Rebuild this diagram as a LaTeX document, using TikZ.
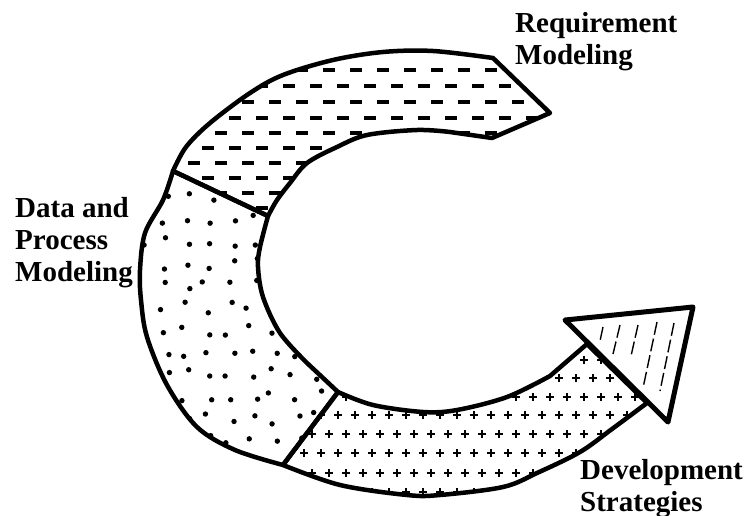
\documentclass[tikz,border=0pt]{standalone}
\usepackage{fontspec}
\setmainfont{Liberation Serif}
\begin{document}
\begin{tikzpicture}[x=1pt,y=-1pt,
  outline/.style={line width=4.5pt, line join=round, line cap=round},
  lbl/.style={anchor=base west, inner sep=0pt, align=left,
    font=\fontsize{29}{32}\selectfont\bfseries},
  plusmark/.style={line width=1.2pt},
  hatch/.style={line width=1.4pt, dash pattern=on 13pt off 4pt},
]
\useasboundingbox (0,0) rectangle (746,516);

% key points of the ring
\coordinate (d1o) at (173,171);   % divider 1, outer end
\coordinate (d1i) at (268,216);   % divider 1, inner end
\coordinate (d2o) at (283,465);   % divider 2, outer end
\coordinate (d2i) at (338,392);   % divider 2, inner end
\coordinate (tipT) at (550,113);  % pointed end of the upper band
\coordinate (topE) at (493,58);
\coordinate (botE) at (492,138);
\coordinate (baseI) at (587,344); % arrow body meets the head
\coordinate (baseO) at (647,403);
\coordinate (hA) at (565,320);    % arrowhead corners
\coordinate (hB) at (693,307);
\coordinate (hC) at (668,422);

% the three bands of the ring
\def\bandtop{plot[smooth,tension=0.55] coordinates {(d1o) (186,147) (210,123) (250,93) (283,75) (333,60) (383,52) (433,51) (topE)}
  -- (tipT) -- (botE)
  -- plot[smooth,tension=0.55] coordinates {(450,132) (417,130) (367,135) (337,147) (307,163) (290,183) (277,200) (d1i)} -- cycle}
\def\bandleft{plot[smooth,tension=0.55] coordinates {(d1o) (163,200) (145,233) (140,270) (141,300) (147,337) (167,385) (197,427) (235,450) (d2o)}
  -- (d2i)
  -- plot[smooth,tension=0.55] coordinates {(307,363) (280,333) (263,297) (258,267) (260,247) (d1i)} -- cycle}
\def\bandbottom{plot[smooth,tension=0.55] coordinates {(d2o) (340,485) (407,495) (440,495) (503,487) (537,473) (580,452) (612,429) (baseO)}
  -- (baseI)
  -- plot[smooth,tension=0.55] coordinates {(550,376) (507,397) (457,410) (423,412) (373,405) (d2i)} -- cycle}

% dashes in the upper band
\begin{scope}
  \clip \bandtop;
  \foreach \row [count=\i] in {68,84,100,116,131,146,161,176,191,206} {
    \foreach \col in {0,...,15} {
      \fill ({148+27*\col+mod(\i,2)*13},\row) rectangle ++(12,4);
    }
  }
\end{scope}

% dots in the left band
\begin{scope}
  \clip \bandleft;
  \pgfmathsetseed{11}
  \foreach \yy in {176,198,...,480} {
    \foreach \xx in {142,164,...,340} {
      \pgfmathsetmacro\dx{rand*6}
      \pgfmathsetmacro\dy{rand*6}
      \fill (\xx+\dx,\yy+\dy) circle (2.7);
    }
  }
\end{scope}

% plus signs in the lower band
\begin{scope}
  \clip \bandbottom;
  \foreach \row [count=\i] in {360,378,397,415,434,453,473,492} {
    \foreach \col in {0,...,22} {
      \draw[plusmark] ({287+17*\col+mod(\i,2)*8-4},\row) -- ++(8,0)
                      ({287+17*\col+mod(\i,2)*8},\row-4) -- ++(0,8);
    }
  }
\end{scope}

% hatching in the arrowhead
\draw[hatch] (603,327) -- (600,341);
\draw[hatch] (620,325) -- (613,354);
\draw[hatch] (638,325) -- (631,356);
\draw[hatch] (657,322) -- (643,388);
\draw[hatch] (674,323) -- (660,391);

% outlines
\draw[outline] \bandtop;
\draw[outline] \bandleft;
\draw[outline] \bandbottom;
\draw[outline, line width=5pt] (hA) -- (hB) -- (hC) -- cycle;

% captions (the anchor sits on the baseline of the last line)
\node[lbl] (req) at (515,65) {Requirement\\Modeling};
\node[lbl] (dat) at (15,281) {Data and\\Process\\Modeling};
\node[lbl] (dev) at (580,511) {Development\\Strategies};
\end{tikzpicture}
\end{document}
